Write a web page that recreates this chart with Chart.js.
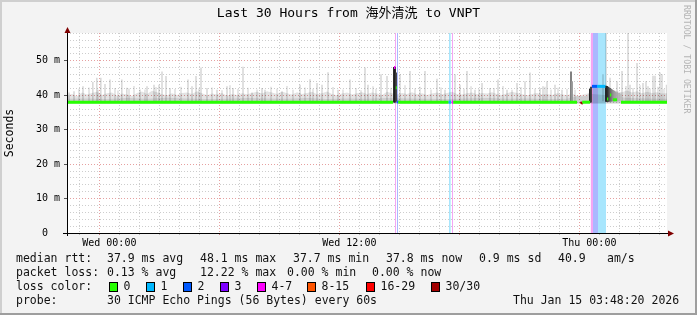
<!DOCTYPE html>
<html><head><meta charset="utf-8">
<script src="https://cdn.jsdelivr.net/npm/chart.js@4/dist/chart.umd.min.js"></script>
<style>html,body{margin:0;padding:0;background:#f3f3f3;overflow:hidden}</style>
</head><body>
<canvas id="c" width="697" height="315"></canvas>
<script>
// ---------------- data ----------------
const titleText = 'Last 30 Hours from 海外清洗 to VNPT';
const startClock = 21 + 53 / 60;      // Tue 21:53 (hours of clock)
const spanHours = 30;
const yMax = 58.1;                    // ms
const dayNames = ['Tue', 'Wed', 'Thu'];
const yTickValues = [0,2,4,6,8,10,12,14,16,18,20,22,24,26,28,30,32,34,36,38,40,42,44,46,48,50,52,54,56,58];

const lossLabels = ['0', '1', '2', '3', '4-7', '8-15', '16-29', '30/30'];
const lossColors = ['#26ff00', '#00b8ff', '#0059ff', '#7e00ff', '#ff00ff', '#ff5500', '#ff0000', '#a10000'];
const lossBgColors = ['#ffffff', '#a8e6fd', '#aab8ff', '#c8a8ff', '#f4a6f4', '#ffc0a0', '#ffa0a0', '#e0a0a0'];

// loss background stripes (hours since start)
const stripeStart = [16.40, 16.50, 19.10, 19.25, 26.18, 26.30, 26.55];
const stripeEnd   = [16.45, 16.55, 19.19, 19.30, 26.30, 26.55, 26.95];
const stripeLoss  = [4, 2, 1, 4, 4, 2, 1];

// median rtt (ms); null = break; medLoss = loss class of segment starting at point
const medT = [0,1,2,3,4,5,6,7,8,9,10,11,12,13,14,15,16,16.3,16.33,16.35,16.42,16.43,16.44,16.49,16.495,16.5,16.56,17,18,19,19.08,19.2,19.24,19.31,20,21,22,23,24,25,25.5,25.55,25.7,25.76,26.0,26.15,26.2,26.25,26.5,26.92,26.95,27.0,27.06,27.08,27.15,27.21,27.24,27.3,27.5,27.55,27.7,28,29,30];
const medV = [38.0,38.0,38.0,38.0,38.0,38.0,38.0,38.0,38.0,38.0,38.0,38.0,38.0,38.0,38.0,38.0,38.0,38.0,null,48.1,48.1,null,42.2,42.2,null,38.2,38.0,38.0,38.0,38.0,38.0,38.0,38.0,38.0,38.0,38.0,38.0,38.0,38.0,38.0,38.0,null,37.5,38.0,38.0,38.0,null,42.6,42.6,42.6,null,38.9,38.9,null,40.1,40.1,null,38.7,38.7,null,38.0,38.0,38.0,38.0];
const medLoss = [0,0,0,0,0,0,0,0,0,0,0,0,0,0,0,0,0,0,0,4,4,0,0,0,0,2,0,0,0,0,1,0,4,0,0,0,0,0,0,0,0,0,7,0,0,0,0,2,1,1,0,0,0,0,0,0,0,0,0,0,0,0,0,0];

// smoke: dense band top (ms), sampled every 0.25 h
const bandStep = 0.25;
const bandTop = [
 40.0,40.4,39.7,40.8,40.2,40.7,41.0,40.1,40.6,40.8,39.9,40.5,
 40.2,39.8,40.7,41.1,40.4,41.3,40.9,40.3,40.0,40.6,40.1,40.7,
 40.8,40.4,41.2,40.6,40.0,40.5,40.2,40.7,39.9,40.4,40.1,40.6,
 40.3,40.7,41.0,40.5,41.2,40.8,40.4,41.1,40.6,40.2,40.9,40.4,
 40.7,41.0,40.3,40.6,41.1,40.4,40.0,40.5,40.8,40.2,40.6,40.9,
 40.4,40.8,40.5,40.1,41.0,40.6,40.2,40.7,40.4,40.9,40.3,40.6,
 40.1,40.5,40.8,40.3,40.7,41.0,40.4,40.2,40.6,40.8,40.3,40.7,
 40.5,40.9,40.4,40.1,40.6,41.0,40.7,40.3,40.0,40.4,40.7,40.2,
 40.4,40.1,40.6,40.3,40.0,40.5,39.9,39.7,39.9,42.4,42.5,42.5,
 42.3,41.6,41.2,40.9,41.4,40.8,41.2,40.6,41.0,40.7,40.9,40.5,
 40.6];
// smoke: darker core top (ms), sampled every 1 h
const coreStep = 1;
const coreTop = [39.0,39.1,38.9,39.2,39.0,39.3,39.1,38.9,39.0,39.2,39.1,39.0,39.2,38.9,39.1,39.0,39.2,39.1,39.0,38.9,39.1,39.2,39.0,39.1,38.9,39.0,40.5,40.0,39.2,39.1,39.0];

// tall smoke spikes (time h, top ms)
const spikeT   = [0.1,0.35,0.8,1.29,1.49,1.69,1.9,2.15,2.74,2.99,3.65,4.0,4.35,4.6,4.75,4.95,5.15,6.05,6.25,6.45,6.7,7.0,7.5,8.0,8.3,8.8,9.25,9.75,9.9,10.75,11.65,12.15,12.5,12.75,13.05,13.55,14.15,14.9,15.05,15.7,16.0,16.65,17.15,17.9,18.5,18.9,19.4,19.65,20.0,20.4,20.75,21.15,21.55,22.0,22.5,22.9,23.15,23.65,23.8,24.0,24.4,24.75,26.8,26.95,27.15,27.5,27.75,28.05,28.15,28.5,28.8,28.95,29.05,29.3,29.4,29.65,29.75,29.98];
const spikeTop = [40.7,41.1,42.5,43.8,45.0,45.0,43.2,44.5,44.5,42.1,41.6,42.5,43.0,43.0,46.8,45.5,42.0,44.5,42.5,45.5,48.0,42.0,41.5,42.5,42.0,48.2,40.7,42.0,41.5,41.0,43.0,44.6,43.5,43.0,46.6,41.5,44.5,48.0,43.0,46.0,45.5,46.0,47.0,47.0,44.7,41.5,46.0,43.0,47.0,41.5,43.5,42.0,44.5,41.5,43.5,44.0,46.5,42.0,42.5,44.0,43.0,41.5,46.0,58.1,45.0,44.0,47.0,58.1,43.0,49.3,43.5,44.0,42.5,45.6,45.6,46.5,46.0,43.0];
// medium smoke lines (time h, top ms)
const midT   = [0.6,1.1,1.55,2.4,2.55,3.1,3.35,3.9,4.45,5.4,5.7,6.6,7.25,7.75,8.15,8.55,9.05,9.5,10.2,10.5,11.0,11.3,11.9,12.3,13.3,13.8,14.45,14.7,15.3,15.45,16.2,16.9,17.4,17.65,18.2,18.7,19.85,20.2,20.6,21.35,21.8,22.25,22.7,23.4,23.9,24.2,24.55,25.0,25.4,27.95,28.3,28.65,29.15,29.55,29.85];
const midTop = [41.8,42.2,41.5,42.0,41.3,41.9,42.6,41.6,42.3,41.7,42.4,41.9,42.2,41.4,42.8,41.7,42.1,41.6,42.4,41.8,42.6,41.5,42.2,41.8,42.3,41.6,42.0,41.4,42.5,41.7,42.1,42.8,41.9,42.4,41.6,42.2,41.8,42.5,41.7,42.0,42.6,41.5,42.3,41.8,42.4,41.6,42.1,41.7,41.5,42.6,42.0,42.8,41.9,42.4,41.7];
// dark smoke around loss events (time h, low ms, high ms, gray level)
const darkT    = [16.35,16.40,16.45,25.20,25.25,26.15,26.20,26.95,27.00,27.05,27.10,27.15,27.20,27.25,27.30,27.35,27.40,27.50,27.60,27.70];
const darkLo   = [38.0,38.0,38.2,38.4,38.4,38.0,38.0,38.2,38.2,38.2,38.3,38.3,38.3,38.4,38.4,38.4,38.4,38.4,38.4,38.4];
const darkHi   = [48.1,48.1,46.5,46.8,44.0,41.8,42.4,42.7,42.6,42.4,42.2,42.0,41.8,41.6,41.4,41.2,41.0,40.8,40.6,40.4];
const darkGray = [30,30,60,120,150,20,60,30,40,50,70,90,110,125,140,150,160,170,180,190];

// statistics text
const statRows = [
  [[16,'median rtt:'],[107,'37.9 ms avg'],[200,'48.1 ms max'],[293,'37.7 ms min'],[386,'37.8 ms now'],[479,'0.9 ms sd'],[558,'40.9'],[607,'am/s']],
  [[16,'packet loss:'],[107,'0.13 % avg'],[200,'12.22 % max'],[287,'0.00 % min'],[372,'0.00 % now']],
  [[16,'loss color:']],
  [[16,'probe:'],[107,'30 ICMP Echo Pings (56 Bytes) every 60s'],[513,'Thu Jan 15 03:48:20 2026']]
];
const legendBoxX = [109,146,183,220,257,307,366,431];

// ---------------- chart ----------------
const mono = '"DejaVu Sans Mono", "Noto Sans CJK SC", monospace';
const minorGrid = '#cdcdcd';
const majorGrid = '#e6a0a0';

const hourTicks = [];
for (let h = Math.ceil(startClock); h <= startClock + spanHours; h++) hourTicks.push(h - startClock);

const xHour = ctx => (ctx.tick ? Math.round(ctx.tick.value + startClock) : 1);
const yVal = ctx => (ctx.tick ? ctx.tick.value : 1);

const datasets = [];
stripeStart.forEach((s, i) => {
  datasets.push({type:'line', data:[{x:s,y:yMax},{x:stripeEnd[i],y:yMax}], fill:'origin',
    backgroundColor:lossBgColors[stripeLoss[i]], borderWidth:0, pointRadius:0, order:60});
});
datasets.push({type:'line', data:bandTop.map((v,i)=>({x:i*bandStep,y:v})), fill:{value:37.6},
  backgroundColor:'rgba(0,0,0,0.11)', borderWidth:0, pointRadius:0, order:50});
datasets.push({type:'bar', data:midT.map((t,i)=>({x:t,y:[38.4,midTop[i]]})), backgroundColor:'rgba(0,0,0,0.12)',
  barThickness:1, grouped:false, order:45});
datasets.push({type:'bar', data:spikeT.map((t,i)=>({x:t,y:[38.4,spikeTop[i]]})), backgroundColor:'rgba(0,0,0,0.15)',
  barThickness:1, grouped:false, order:44});
datasets.push({type:'line', data:coreTop.map((v,i)=>({x:i*coreStep,y:v})), fill:{value:37.6},
  backgroundColor:'rgba(0,0,0,0.09)', borderWidth:0, pointRadius:0, order:40});
datasets.push({type:'bar', data:darkT.map((t,i)=>({x:t,y:[darkLo[i],darkHi[i]]})),
  backgroundColor:darkGray.map(g=>`rgb(${g},${g},${g})`), barThickness:1.2, grouped:false, order:30});
datasets.push({type:'line', data:medT.map((t,i)=>({x:t,y:medV[i]})), borderColor:lossColors[0], borderWidth:3,
  pointRadius:0, spanGaps:false, tension:0, borderCapStyle:'butt',
  segment:{borderColor: ctx => lossColors[medLoss[ctx.p0DataIndex]]}, order:10});

const framePlugin = {
  id:'frame',
  beforeDraw(chart){
    const c = chart.ctx, a = chart.chartArea, W = chart.width, H = chart.height;
    c.save();
    c.fillStyle = '#f3f3f3'; c.fillRect(0,0,W,H);
    c.fillStyle = '#cfcfcf'; c.fillRect(0,0,W,2); c.fillRect(0,0,2,H);
    c.fillStyle = '#9e9e9e'; c.fillRect(0,H-2,W,2); c.fillRect(W-2,0,2,H);
    c.fillStyle = '#ffffff'; c.fillRect(a.left,a.top,a.right-a.left,a.bottom-a.top);
    c.restore();
  },
  afterDatasetsDraw(chart){
    const c = chart.ctx, a = chart.chartArea;
    c.save();
    c.strokeStyle = '#000'; c.lineWidth = 1;
    c.beginPath();
    c.moveTo(a.left-4, a.bottom+0.5); c.lineTo(a.right+2, a.bottom+0.5);
    c.moveTo(a.left+0.5, a.bottom+3); c.lineTo(a.left+0.5, a.top-2);
    c.stroke();
    c.fillStyle = '#7f0000';
    c.beginPath(); c.moveTo(a.right+1, a.bottom-2.5); c.lineTo(a.right+7, a.bottom+0.5); c.lineTo(a.right+1, a.bottom+3.5); c.closePath(); c.fill();
    c.beginPath(); c.moveTo(a.left-2.5, a.top); c.lineTo(a.left+0.5, a.top-6); c.lineTo(a.left+3.5, a.top); c.closePath(); c.fill();
    c.restore();
  },
  afterDraw(chart){
    const c = chart.ctx;
    c.save();
    c.font = '11.5px ' + mono; c.fillStyle = '#111'; c.textBaseline = 'middle';
    const rowY = [259.5, 273.2, 287, 300.8];
    statRows.forEach((row, r) => row.forEach(([x, s]) => c.fillText(s, x, rowY[r])));
    lossLabels.forEach((lab, i) => {
      const bx = legendBoxX[i];
      c.fillStyle = lossColors[i]; c.fillRect(bx, rowY[2]-4.5, 8, 9);
      c.strokeStyle = '#000'; c.lineWidth = 1; c.strokeRect(bx+0.5, rowY[2]-4.5, 8, 9);
      c.fillStyle = '#111'; c.fillText(lab, bx + 14.5, rowY[2]);
    });
    c.translate(686.5, 5); c.rotate(Math.PI/2);
    c.font = '8.2px ' + mono; c.fillStyle = '#b4b4b4'; c.textBaseline = 'middle';
    c.fillText('RRDTOOL / TOBI OETIKER', 0, 0);
    c.restore();
  }
};

new Chart(document.getElementById('c'), {
  type:'line',
  data:{datasets},
  options:{
    responsive:false, animation:false, devicePixelRatio:1, events:[],
    layout:{padding:{left:0,right:0,top:0,bottom:62}},
    plugins:{
      legend:{display:false}, tooltip:{enabled:false},
      title:{display:true, text:titleText, color:'#000', font:{family:mono,size:13,weight:'normal'}, padding:{top:6,bottom:11.4}}
    },
    scales:{
      x:{type:'linear', min:0, max:spanHours, offset:false,
        afterFit(s){ s.height = 20; },
        afterBuildTicks(s){ s.ticks = hourTicks.map(v=>({value:v})); },
        ticks:{autoSkip:false, maxRotation:0, padding:2, color:'#000', font:{family:mono,size:10},
          callback(v){ const h = Math.round(v + startClock); if (h % 12) return '';
            return dayNames[Math.floor(h/24)] + ' ' + String(h%24).padStart(2,'0') + ':00'; }},
        grid:{color: ctx => (xHour(ctx) % 6 ? minorGrid : majorGrid),
          tickColor: ctx => (xHour(ctx) % 6 ? '#bdbdbd' : '#d08080'),
          tickLength:2, lineWidth:1},
        border:{display:false, dash:[1,2]}
      },
      y:{type:'linear', min:0, max:yMax, position:'left',
        afterFit(s){ s.width = 67; },
        afterBuildTicks(s){ s.ticks = yTickValues.map(v=>({value:v})); },
        ticks:{autoSkip:false, padding:4, color:'#000', font:{family:mono,size:10},
          callback(v){ return v % 10 ? '' : (v === 0 ? '0  ' : v + ' m'); }},
        grid:{color: ctx => (yVal(ctx) % 10 ? minorGrid : majorGrid),
          tickColor: ctx => (yVal(ctx) % 10 ? 'rgba(0,0,0,0)' : '#555'),
          tickLength:3, lineWidth:1},
        border:{display:false, dash:[1,2]},
        title:{display:true, text:'Seconds', color:'#000', font:{family:mono,size:11.5}, padding:{top:3,bottom:0}}
      },
      yR:{type:'linear', position:'right', min:0, max:1, afterFit(s){ s.width = 30; },
        grid:{display:false}, ticks:{display:false}, border:{display:false}}
    }
  },
  plugins:[framePlugin]
});
</script>
</body></html>
